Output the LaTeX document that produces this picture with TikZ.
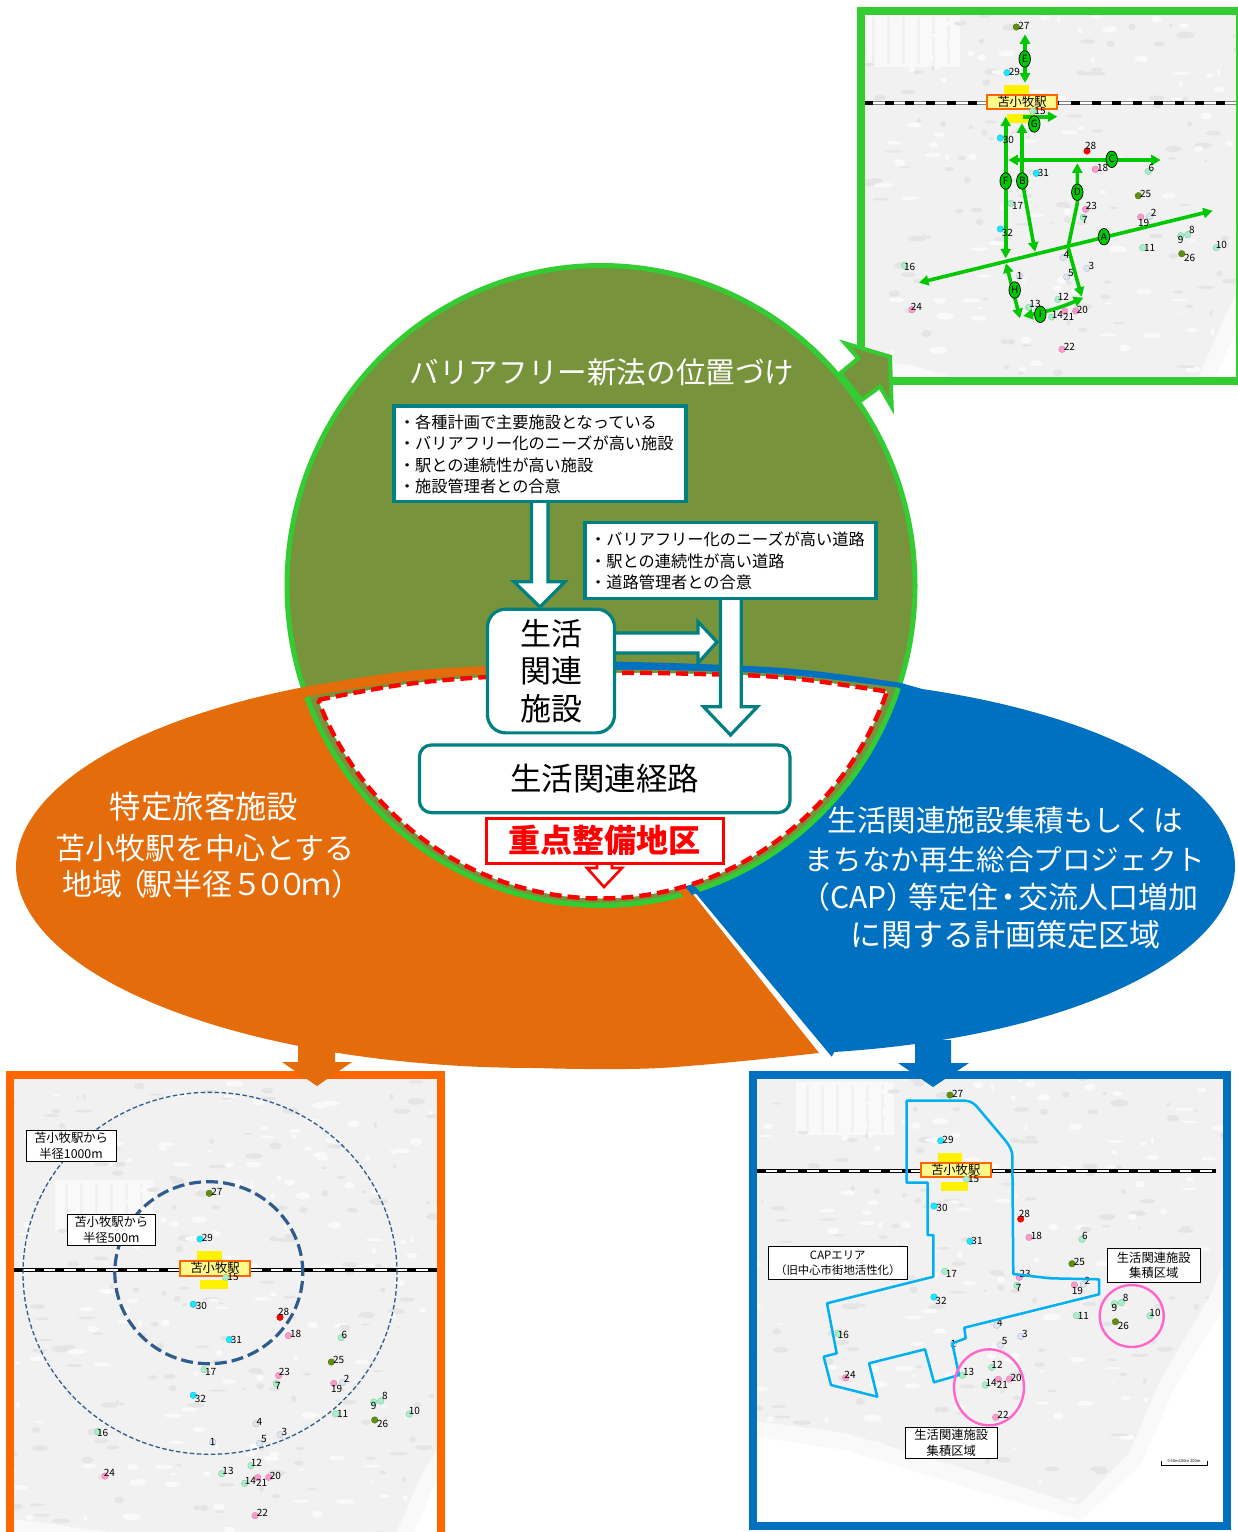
\documentclass[tikz,border=0pt]{standalone}
\usepackage{fontspec}
\setmainfont{Noto Sans CJK JP}
\usetikzlibrary{arrows.meta,shapes.geometric}
\definecolor{oliveF}{HTML}{77933C}
\definecolor{ringG}{HTML}{33CC33}
\definecolor{orangeF}{HTML}{E46C0A}
\definecolor{orangeB}{HTML}{FF6600}
\definecolor{blueF}{HTML}{0070C0}
\definecolor{tealB}{HTML}{008080}
\definecolor{roadG}{HTML}{00C800}
\definecolor{capB}{HTML}{00B0F0}
\definecolor{pinkC}{HTML}{FF66CC}
\definecolor{dGreen}{HTML}{A6F0C6}
\definecolor{dBlue}{HTML}{DCE6F2}
\definecolor{dPink}{HTML}{FF99CC}
\definecolor{dOlive}{HTML}{5F8F0F}
\definecolor{dCyan}{HTML}{19E6FF}
\definecolor{landC}{HTML}{F1F1F1}
\definecolor{landD}{HTML}{E5E5E5}
\definecolor{landL}{HTML}{FAFAFA}
\definecolor{landF}{HTML}{F9F9F9}
\definecolor{radiusB}{HTML}{2F5C8F}
\tikzset{
  whitetxt/.style={text=white,inner sep=0pt},
  infobox/.style={draw=tealB,line width=3.2pt,fill=white,inner sep=0pt},
  infotext/.style={anchor=west,align=left,inner sep=0pt,font=\fontsize{16.2}{21.3}\selectfont},
  lifebox/.style={draw=tealB,line width=3.2pt,fill=white,align=center,inner sep=0pt},
  blockarrow/.style={draw=tealB,line width=3.2pt,fill=white,miter limit=10},
  maptag/.style={draw=black,line width=.9pt,fill=white,align=center,inner sep=0pt,font=\fontsize{12.3}{15.7}\selectfont},
  numlab/.style={inner sep=0pt,font=\fontsize{10}{10}\selectfont},
  roadarrow/.style={draw=roadG,line width=3.6pt,{Triangle[length=9.5pt,width=10pt]}-{Triangle[length=9.5pt,width=10pt]}},
  roadend/.style={draw=roadG,line width=3.6pt,-{Triangle[length=9.5pt,width=10pt]}},
  roadlab/.style={ellipse,draw=black,line width=.7pt,fill=roadG,minimum width=11.5pt,minimum height=16.5pt,inner sep=0pt,font=\fontsize{10}{10}\selectfont},
  frameline/.style={line width=8pt},
  pinkring/.style={draw=pinkC,line width=2.4pt},
}
\newcommand{\mapground}{%
  \fill[landF] (-280,-210) -- (340,-210) -- (300,60) -- (270,135) -- (220,215) -- (185,295) -- (125,350) -- (20,320) -- (-110,280) -- (-280,255) -- cycle;
  \begin{scope}
    \clip (-280,-210) -- (330,-210) -- (280,60) -- (256,123) -- (206,207) -- (173,283) -- (123,335) -- (23,303) -- (-110,263) -- (-280,240) -- cycle;
    \fill[landC] (-280,-210) rectangle (340,340);
    \fill[landF] (-160,-88) rectangle (-62,-35);
    \foreach \sx in {-150,-135,-120,-105,-90,-75}{\fill[landC] (\sx,-85) rectangle (\sx+3,-38);}
    \pgfmathsetseed{7}
    \foreach \i in {1,...,480}{%
      \pgfmathsetmacro\rx{rnd*610-280}%
      \pgfmathsetmacro\ry{rnd*550-210}%
      \pgfmathsetmacro\ra{rnd*8+1.5}%
      \pgfmathsetmacro\rb{rnd*2.5+1}%
      \pgfmathtruncatemacro\rc{rnd*2}%
      \ifnum\rc=0 \def\pc{landD}\else\def\pc{landL}\fi
      \fill[fill=\pc] (\rx,\ry) ellipse[x radius=\ra pt,y radius=\rb pt];
    }
  \end{scope}}
\newcommand{\maprail}[3]{%
  \draw[#3,line width=4pt] (#1,1.3) -- (#2,1.3);
  \draw[white,line width=2pt] (#1,1.3) -- (#2,1.3);
  \draw[black,line width=4pt,dash pattern=on 9pt off 11.7pt] (#1,1.3) -- (#2,1.3);}
\newcommand{\mapstation}[1]{%
  \fill[yellow] (-18,-17.3) rectangle (6.7,-6.7);
  \fill[yellow] (-15,11.7) rectangle (12.7,21);
  \node[draw=orangeB,fill=yellow!45,line width=1.9pt,minimum width=70pt,minimum height=14.5pt,inner sep=0pt,font=\fontsize{12.3}{13}\selectfont] (#1st) at (0,0) {苫小牧駅};}
\def\maplist{
    27/-5.7/-75/dOlive/7.6/-1, 29/-15/-29.3/dCyan/7.3/-0.7, 15/10.7/9/dGreen/7.3/0, 30/-21.7/36/dCyan/8/2,
    28/65/49/red/3.7/-5.3, 18/73.3/67.3/dPink/7.3/-1.3, 31/14.3/71.3/dCyan/7/0, 6/126.3/69.3/dGreen/3/-3,
    25/116.3/93.7/dOlive/7.3/-1.7, 17/-11/101.3/dGreen/6.7/2.7, 23/63.7/107.3/dPink/5.7/-3.3, 7/61.3/115.3/dGreen/1.7/2.7,
    19/118.7/115/dPink/3/6, 2/127.7/114.3/dBlue/4/-3.3, 32/-21.7/127/dCyan/7/4, 9/158.7/133.7/dGreen/0/4,
    8/165.7/132.7/dGreen/4.3/-4.7, 11/120.7/145.7/dGreen/7/0.3, 10/194.3/145.7/dGreen/5/-2.7, 26/159.7/151.7/dOlive/8/4.3,
    4/41/155.3/dBlue/3.3/-2, 3/65/166.3/dBlue/4.3/-2.3, 16/-117.3/163.3/dGreen/5/1.7, 1/-2.3/174/dBlue/0/0,
    5/44.7/175/dBlue/4.3/-4, 12/36/197.3/dGreen/5.3/-2.3, 13/6.7/205.3/dGreen/6.3/-3, 24/-110/207.7/dPink/4.3/-3.3,
    14/29.7/215/dGreen/5.7/-2.3, 21/42.7/209.3/dPink/4/5.7, 20/53.7/209/dPink/6.7/-1, 22/40/247.3/dPink/7.3/-2.3}
\newcommand{\mapdots}{%
  \foreach \n/\px/\py/\dcol/\ox/\oy in \maplist{%
    \fill[fill=\dcol,draw=\dcol!80!black,line width=.3pt] (\px,\py) circle[radius=3.3pt];
  }}
\newcommand{\mapnums}[1]{%
  \foreach \n/\px/\py/\dcol/\ox/\oy in \maplist{%
    \node[numlab] (#1n\n) at ({\px+\ox},{\py+\oy}) {\n};
  }}
\begin{document}
\begin{tikzpicture}[x=1pt,y=-1pt]
\useasboundingbox (0,0) rectangle (1238,1532);
\fill[white] (0,0) rectangle (1238,1532);

% ---------- top right map
\begin{scope}
  \clip (864,15) rectangle (1236,377);
  \begin{scope}[shift={(1022,102)}]
    \mapground
    \maprail{-158}{214}{gray}
    \mapstation{t}
    \mapdots
  \end{scope}
\end{scope}
\draw[ringG,frameline] (860.5,11) rectangle (1240,381);
% roads
\draw[roadarrow] (919,282.7) -- (1212.7,210.7);
\draw[roadarrow] (1005.7,116.7) -- (1005.7,258.3);
\draw[roadarrow] (1022,123.3) -- (1022,180) -- (1035,251.7);
\draw[roadarrow] (1008.3,160) -- (1160.7,160);
\draw[roadend] (1068.3,246) -- (1077.3,203.3) -- (1077.3,163.3);
\draw[roadend] (1068.3,248) -- (1081.7,296.7);
\draw[roadarrow] (1025,34.3) -- (1025,82.7);
\draw[roadend] (1023,116.7) -- (1057.3,116.7);
\draw[roadarrow] (1006,263.3) -- (1020,318.3);
\draw[roadarrow] (1023.3,316) .. controls (1045,312) and (1060,308) .. (1083.3,297.7);
\begin{scope}[shift={(1022,102)}]
  \mapnums{t}
\end{scope}
\node[roadlab] (rA) at (1104,236.7) {A};
\node[roadlab] (rB) at (1022.3,181) {B};
\node[roadlab] (rC) at (1111.7,159.3) {C};
\node[roadlab] (rD) at (1077.3,192.3) {D};
\node[roadlab] (rE) at (1024.7,59) {E};
\node[roadlab] (rF) at (1005.7,181) {F};
\node[roadlab] (rG) at (1034.3,124) {G};
\node[roadlab] (rH) at (1014.7,290) {H};
\node[roadlab] (rI) at (1040.3,314.3) {I};

% ---------- bottom left map
\begin{scope}
  \clip (14,1078) rectangle (437,1532);
  \begin{scope}[shift={(215,1268.3)}]
    \mapground
    \maprail{-201}{222}{black}
    \mapstation{l}
    \mapdots
    \mapnums{l}
  \end{scope}
  \draw[radiusB,line width=1.3pt,dash pattern=on 4.5pt off 2.5pt] (210,1273.3) ellipse[x radius=187pt,y radius=181pt];
  \draw[radiusB,line width=3.2pt,dash pattern=on 12pt off 5pt] (208.8,1272.7) ellipse[x radius=94pt,y radius=91pt];
  \node[maptag,minimum width=90pt,minimum height=31pt] (tag1000) at (71,1145.5) {苫小牧駅から\\半径1000m};
  \node[maptag,minimum width=88pt,minimum height=31pt] (tag500) at (111.3,1229.8) {苫小牧駅から\\半径500m};
\end{scope}
\draw[orangeB,frameline] (10,1074.5) rectangle (441,1600);

% ---------- bottom right map
\begin{scope}
  \clip (757,1078.7) rectangle (1223.3,1522.3);
  \begin{scope}[shift={(955.7,1170)}]
    \mapground
    \maprail{-199}{260}{black}
    \mapstation{r}
    \mapdots
    \mapnums{r}
  \end{scope}
  \draw[capB,line width=2.5pt,line join=round] (906.7,1100.7) -- (965,1100.7) .. controls (971,1101) and (975,1104) .. (978.3,1108.3) -- (1005,1140) .. controls (1009,1145) and (1012,1150) .. (1012.3,1155) -- (1013.3,1274) -- (1050,1278.3) -- (1099,1279.3) -- (1099,1294.3) -- (964.3,1327.7) -- (965.7,1338.3) -- (952.3,1343.3) -- (959,1375) -- (934,1382.3) -- (925,1349.3) -- (869,1363.3) -- (877.3,1396.7) -- (831,1385) -- (823.7,1356.7) -- (836.7,1353.3) -- (827,1303.3) -- (933.3,1276.7) -- (933.3,1235) -- (927.7,1235) -- (927.7,1182.7) -- (906.7,1182.7) -- cycle;
  \draw[pinkring] (989,1387.3) ellipse[x radius=35pt,y radius=38pt];
  \draw[pinkring] (1131.7,1316) ellipse[x radius=32pt,y radius=31pt];
  \node[maptag,minimum width=139pt,minimum height=33pt,font=\fontsize{11.4}{15.7}\selectfont] (tagcap) at (837.8,1263.3) {CAPエリア\\（旧中心市街地活性化）};
  \node[maptag,minimum width=93pt,minimum height=34pt] (tagz1) at (1153.8,1265.3) {生活関連施設\\集積区域};
  \node[maptag,minimum width=92pt,minimum height=31pt] (tagz2) at (951.3,1442.8) {生活関連施設\\集積区域};
  \draw[black,line width=1pt] (1161,1461) -- (1161,1465) -- (1207.7,1465) -- (1207.7,1461);
  \node[inner sep=0pt,font=\fontsize{4}{4}\selectfont] (scalelab) at (1184,1461.5) {0 50m100m 200m};
\end{scope}
\draw[blueF,frameline] (753,1074.7) rectangle (1227.3,1526.3);

% ---------- big circle and ellipses
\draw[fill=oliveF,draw=ringG,line width=5pt] (601,585.5) ellipse[x radius=314pt,y radius=320pt];
\draw[fill=oliveF,draw=ringG,line width=4pt,miter limit=10] (840,373.3) -- (858.3,358.3) -- (845,343.3) -- (890,356.7) -- (891.7,406.7) -- (880,386.7) -- (861.7,400) -- cycle;
\draw[ringG,line width=5pt] plot[domain=40:60,samples=12] ({601+314*cos(\x)},{585.5-320*sin(\x)});

\fill[orangeF] plot[smooth,tension=.6] coordinates {(570,662) (486,666) (400,672) (304,687)} -- plot[domain=-116.5:-270,samples=90] ({535+519*cos(\x)},{867+201*sin(\x)}) -- plot[smooth,tension=.6] coordinates {(535,1068) (660,1068) (819,1053)} -- (692,893) -- (600,720) -- cycle;
\fill[blueF] plot[smooth,tension=.6] coordinates {(590,661) (700,664) (800,669.5) (900,682.7)} -- plot[domain=-70:81,samples=100] ({760+475*cos(\x)},{866+188.3*sin(\x)}) -- (831.7,1056.7) -- (693,890) -- (600,720) -- cycle;

% lower segment
\fill[oliveF] plot[smooth,tension=.6] coordinates {(305,697) (400,682) (487,674) (600,670) (700,671) (790,675) (900,688)} -- plot[domain=18.7:159.6,samples=80] ({601+314*cos(\x)},{585.5+320*sin(\x)}) -- cycle;
\draw[ringG,line width=5pt] plot[domain=18.7:159.6,samples=80] ({601+314*cos(\x)},{585.5+320*sin(\x)});
\fill[orangeF] (676,884) -- (683,884) -- (692,895) -- (684,899) -- cycle;
\fill[blueF] (683,884) -- (690,881) -- (700,892) -- (692,895) -- cycle;
\draw[fill=white,draw=red,line width=4.4pt,dash pattern=on 12pt off 6pt] plot[smooth,tension=.6] coordinates {(318,700) (400,685) (487,677) (600,673) (700,674) (790,678) (888,691.7)} -- plot[domain=19.8:158.5,samples=80] ({601+304*cos(\x)},{585.5+313*sin(\x)}) -- cycle;

% ---------- connectors to maps
\fill[orangeF] (298,1040) -- (335,1040) -- (335,1062) -- (352,1062) -- (317,1086) -- (282,1062) -- (298,1062) -- cycle;
\fill[blueF] (915,1040) -- (951,1040) -- (951,1063) -- (969,1063) -- (933,1087) -- (898,1063) -- (915,1063) -- cycle;

% ---------- block arrows
\draw[blockarrow] (531.5,495) -- (548,495) -- (548,581.7) -- (565,581.7) -- (540,607) -- (514,581.7) -- (531.5,581.7) -- cycle;
\draw[blockarrow] (610,633) -- (698,633) -- (698,621.7) -- (717,642) -- (698,663) -- (698,653) -- (610,653) -- cycle;
\draw[blockarrow] (720.5,590) -- (741.3,590) -- (741.3,706.7) -- (757.5,706.7) -- (730.5,735) -- (703.5,706.7) -- (720.5,706.7) -- cycle;

% ---------- boxes
\node[infobox,minimum width=292pt,minimum height=95.7pt] (box1) at (540,453.8) {};
\node[infotext] (box1text) at (398.8,456.3) {\begin{tabular}{@{}l@{}}・各種計画で主要施設となっている\\・バリアフリー化のニーズが高い施設\\・駅との連続性が高い施設\\・施設管理者との合意\end{tabular}};
\node[infobox,minimum width=291pt,minimum height=75.6pt] (box2) at (730.5,560.5) {};
\node[infotext] (box2text) at (590,563) {\begin{tabular}{@{}l@{}}・バリアフリー化のニーズが高い道路\\・駅との連続性が高い道路\\・道路管理者との合意\end{tabular}};
\node[lifebox,rounded corners=18pt,minimum width=127pt,minimum height=123.7pt,font=\fontsize{31}{37.5}\selectfont] (facility) at (551,671) {\raisebox{-1pt}{生活}\\\raisebox{-1pt}{関連}\\\raisebox{-1pt}{施設}};
\node[lifebox,rounded corners=12pt,minimum width=370.6pt,minimum height=67.7pt,font=\fontsize{31.5}{36}\selectfont] (route) at (604.7,778.8) {\raisebox{-1.5pt}{生活関連経路}};
\draw[draw=red,fill=white,line width=2.6pt] (597,860) -- (597,868) -- (587,868) -- (604,887) -- (622,868) -- (612,868) -- (612,860) -- cycle;
\node[draw=red,fill=white,line width=3pt,minimum width=236.6pt,minimum height=45pt,inner sep=0pt,text=red,font=\bfseries\fontsize{32}{36}\selectfont] (priority) at (604.7,840.8) {\raisebox{-1.5pt}{重点整備地区}};

% ---------- labels
\node[whitetxt,font=\fontsize{29.6}{32}\selectfont] (title) at (602,372) {バリアフリー新法の位置づけ};
\node[whitetxt,font=\fontsize{31.4}{32}\selectfont] (o1) at (204,807) {特定旅客施設};
\node[whitetxt,font=\fontsize{30}{32}\selectfont] (o2) at (205,848) {苫小牧駅を中心とする};
\node[whitetxt,font=\fontsize{30}{32}\selectfont] (o3) at (211.5,884) {地域\kern-6pt（\kern-4pt駅半径５\kern-7pt０\kern-7pt０\kern-7pt ｍ）};
\node[whitetxt,font=\fontsize{29.6}{32}\selectfont] (b1) at (1005,820) {生活関連施設集積もしくは};
\node[whitetxt,font=\fontsize{28.6}{32}\selectfont] (b2) at (1005,860) {まちなか再生総合プロジェクト};
\node[whitetxt,font=\fontsize{30}{32}\selectfont] (b3) at (999.5,897) {（CAP）\kern-8pt等定住\kern-5pt・\kern-5pt交流人口増加};
\node[whitetxt,font=\fontsize{31}{32}\selectfont] (b4) at (1005,935) {に関する計画策定区域};
\end{tikzpicture}
\end{document}
